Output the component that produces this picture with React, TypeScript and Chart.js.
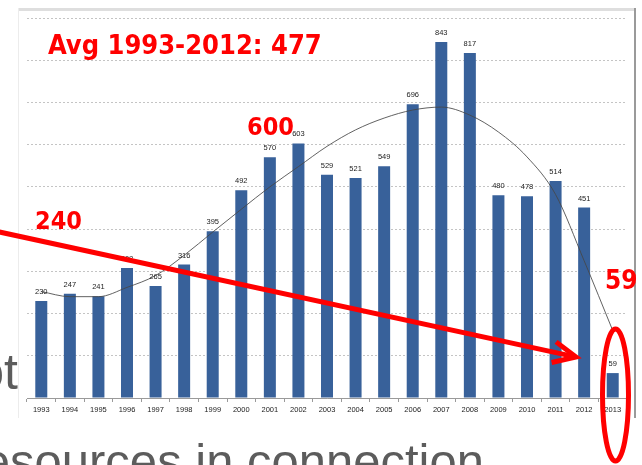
import React, { useEffect, useRef } from 'react';
import { Chart, registerables } from 'chart.js';

Chart.register(...registerables);

const years = ['1993', '1994', '1995', '1996', '1997', '1998', '1999', '2000', '2001', '2002', '2003', '2004', '2005', '2006', '2007', '2008', '2009', '2010', '2011', '2012', '2013'];
const counts = [230, 247, 241, 308, 265, 316, 395, 492, 570, 603, 529, 521, 549, 696, 843, 817, 480, 478, 514, 451, 59];
const trend = [252, 240, 240, 262, 290, 338, 393, 447, 500, 548, 596, 635, 663, 682, 689, 670, 630, 571, 482, 325, 160];
const yMax = 900;
const yStep = 100;
const avgLabel = 'Avg 1993-2012: 477';
const peakLabel = '600';
const startLabel = '240';
const endLabel = '59';
const slideTextLeft = 'ot';
const slideTextBottom = 'esources in connection';

const RED = '#ff0000';

const decorPlugin = {
  id: 'decor',
  beforeDraw(chart: any) {
    const ctx = chart.ctx as CanvasRenderingContext2D;
    ctx.save();
    ctx.fillStyle = '#ffffff';
    ctx.fillRect(0, 0, chart.width, chart.height);
    // slide text behind the pasted chart
    ctx.fillStyle = '#5c5c5c';
    ctx.textAlign = 'right';
    ctx.textBaseline = 'alphabetic';
    ctx.font = '50px "Liberation Sans", Arial, sans-serif';
    ctx.fillText(slideTextLeft, 18, 389);
    ctx.font = '49px "Liberation Sans", Arial, sans-serif';
    ctx.fillText(slideTextBottom, 484, 478);
    // panel
    ctx.fillStyle = '#ffffff';
    ctx.fillRect(18, 8, 618, 410);
    ctx.fillStyle = '#dedede';
    ctx.fillRect(18, 8, 618, 3);
    ctx.fillStyle = '#ececec';
    ctx.fillRect(18, 8, 1, 410);
    ctx.fillStyle = '#9a9a9a';
    ctx.fillRect(634, 8, 2, 410);
    ctx.restore();
  },
  afterDatasetsDraw(chart: any) {
    const ctx = chart.ctx as CanvasRenderingContext2D;
    const meta = chart.getDatasetMeta(0);
    ctx.save();
    ctx.fillStyle = '#222';
    ctx.font = '7.5px "Liberation Sans", Arial, sans-serif';
    ctx.textAlign = 'center';
    ctx.textBaseline = 'middle';
    meta.data.forEach((bar: any, i: number) => {
      ctx.fillText(String(counts[i]), bar.x, bar.y - 9);
    });
    ctx.restore();
  },
  afterDraw(chart: any) {
    const ctx = chart.ctx as CanvasRenderingContext2D;
    ctx.save();
    ctx.fillStyle = RED;
    ctx.textAlign = 'left';
    ctx.textBaseline = 'alphabetic';
    (ctx as any).fontStretch = 'condensed';
    ctx.font = 'bold 27px "DejaVu Sans Condensed", "DejaVu Sans", sans-serif';
    ctx.fillText(avgLabel, 48, 54);
    ctx.font = 'bold 25px "DejaVu Sans Condensed", "DejaVu Sans", sans-serif';
    ctx.fillText(peakLabel, 247, 135);
    ctx.fillText(startLabel, 35, 229);
    ctx.font = 'bold 26px "DejaVu Sans Condensed", "DejaVu Sans", sans-serif';
    ctx.fillText(endLabel, 605, 289);

    // arrow
    const x0 = -5, y0 = 231, x1 = 576, y1 = 357;
    const ang = Math.atan2(y1 - y0, x1 - x0);
    ctx.strokeStyle = RED;
    ctx.lineWidth = 5;
    ctx.lineCap = 'butt';
    ctx.lineJoin = 'miter';
    ctx.beginPath();
    ctx.moveTo(x0, y0);
    ctx.lineTo(x1 - 3 * Math.cos(ang), y1 - 3 * Math.sin(ang));
    ctx.stroke();
    const len = 25;
    const spread = (25 * Math.PI) / 180;
    ctx.beginPath();
    ctx.moveTo(x1 - len * Math.cos(ang + spread), y1 - len * Math.sin(ang + spread));
    ctx.lineTo(x1, y1);
    ctx.lineTo(x1 - len * Math.cos(ang - spread), y1 - len * Math.sin(ang - spread));
    ctx.stroke();

    // ellipse around the last bar
    ctx.beginPath();
    ctx.ellipse(615.5, 395, 13, 66, 0, 0, Math.PI * 2);
    ctx.stroke();
    ctx.restore();
  },
};

export default function App() {
  const ref = useRef<HTMLCanvasElement | null>(null);

  useEffect(() => {
    if (!ref.current) return;
    const chart = new Chart(ref.current, {
      type: 'bar',
      data: {
        labels: years,
        datasets: [
          {
            type: 'bar',
            data: counts,
            backgroundColor: '#38619a',
            borderWidth: 0,
            categoryPercentage: 1,
            barPercentage: 0.42,
            order: 2,
          } as any,
          {
            type: 'line',
            data: trend,
            borderColor: 'rgba(70,70,70,0.85)',
            borderWidth: 1,
            pointRadius: 0,
            fill: false,
            cubicInterpolationMode: 'monotone',
            order: 1,
          } as any,
        ],
      },
      options: {
        responsive: false,
        animation: false,
        devicePixelRatio: 1,
        layout: { padding: { left: 27, right: 15, top: 18, bottom: 0 } },
        plugins: {
          legend: { display: false },
          tooltip: { enabled: false },
        },
        scales: {
          x: {
            offset: true,
            grid: {
              display: true,
              drawOnChartArea: false,
              drawTicks: true,
              tickLength: 4,
              color: '#9a9a9a',
              offset: true,
            },
            border: { display: true, color: '#9a9a9a', width: 1 },
            ticks: {
              color: '#222',
              font: { size: 7.5, family: '"Liberation Sans", Arial, sans-serif' },
              padding: 3,
              maxRotation: 0,
              autoSkip: false,
            },
            afterFit: (scale: any) => {
              scale.height = 67;
            },
          },
          y: {
            min: 0,
            max: yMax,
            ticks: { display: false, stepSize: yStep },
            grid: { color: '#c4c4c4', drawTicks: false, tickLength: 0, lineWidth: 1 },
            border: { display: false, dash: [2, 2] },
            afterFit: (scale: any) => {
              scale.width = 0;
            },
          },
        },
      },
      plugins: [decorPlugin],
    });
    return () => chart.destroy();
  }, []);

  return (
    <div style={{ position: 'fixed', left: 0, top: 0, width: 642, height: 465, background: '#fff' }}>
      <canvas ref={ref} width={642} height={465} style={{ display: 'block', width: 642, height: 465 }} />
    </div>
  );
}
